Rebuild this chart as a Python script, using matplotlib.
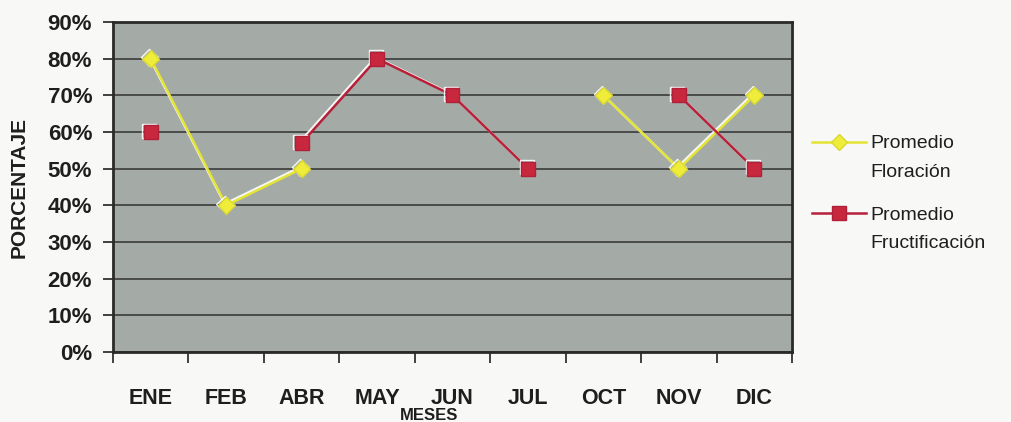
import numpy as np
import matplotlib
matplotlib.use("Agg")
import matplotlib.pyplot as plt
import matplotlib.patheffects as pe
from matplotlib.lines import Line2D
from matplotlib import font_manager as fm

months = ["ENE", "FEB", "ABR", "MAY", "JUN", "JUL", "OCT", "NOV", "DIC"]
floracion = [80, 40, 50, np.nan, np.nan, np.nan, 70, 50, 70]
fructificacion = [60, np.nan, 57, 80, 70, 50, np.nan, 70, 50]
yticks = [0, 10, 20, 30, 40, 50, 60, 70, 80, 90]
ytick_labels = [f"{v}%" for v in yticks]
series_labels = [["Promedio", "Floración"], ["Promedio", "Fructificación"]]

names = {f.name for f in fm.fontManager.ttflist}
base = "Liberation Sans" if "Liberation Sans" in names else "DejaVu Sans"
plt.rcParams["font.family"] = [base, "DejaVu Sans"]

W, H = 1011, 422
fig = plt.figure(figsize=(W / 100, H / 100), dpi=100, facecolor="#f8f8f6")
ax = fig.add_axes([113 / W, 1 - 352 / H, 679 / W, 330 / H])
ax.set_facecolor("#a4aba6")

x = np.arange(len(months))
shadow = [pe.SimpleLineShadow(offset=(-1, 1), shadow_color="white", alpha=0.9), pe.Normal()]
styles = [
    dict(color="#e4e434", lw=1.8, marker="D", ms=8.5, mfc="#efed3a", mec="#d8d830"),
    dict(color="#b8203a", lw=1.8, marker="s", ms=10, mfc="#c8283e", mec="#b02038"),
]
ax.plot(x, floracion, path_effects=shadow, zorder=3, **styles[0])
ax.plot(x, fructificacion, path_effects=shadow, zorder=4, **styles[1])

ax.set_xlim(-0.5, len(months) - 0.5)
ax.set_ylim(0, 90)
ax.set_yticks(yticks)
ax.set_yticklabels(ytick_labels, fontsize=16, fontweight="bold", color="#1e1e1e")
ax.set_xticks(x)
ax.set_xticklabels(months, fontsize=15.5, fontweight="bold", color="#1e1e1e")
ax.set_xticks(np.arange(-0.5, len(months)), minor=True)
ax.tick_params(axis="x", which="major", length=0, pad=26)
ax.tick_params(axis="x", which="minor", length=8, width=1.2, color="#222", direction="out")
ax.tick_params(axis="y", length=7, width=1.2, color="#222", direction="out", pad=8)
ax.grid(axis="y", color="#3a3a3a", lw=1.2)
ax.set_axisbelow(True)
for s in ax.spines.values():
    s.set_color("#2a2a2a")
    s.set_linewidth(2)

ax.set_ylabel("PORCENTAJE", fontsize=15, fontweight="bold", color="#1e1e1e")
ax.yaxis.set_label_coords((29 - 113) / 679, 0.5)
fig.text(429 / W, 1 - 416 / H, "MESES", fontsize=12, fontweight="bold",
         color="#1e1e1e", ha="center", va="center")

# legend (handle aligned with first text line, as in the reference)
handle_y = [142, 213]
baselines = [[148, 177], [220, 248]]
for st, hy, lab, bls in zip(styles, handle_y, series_labels, baselines):
    fy = 1 - hy / H
    fig.add_artist(Line2D([812 / W, 866 / W], [fy, fy], transform=fig.transFigure,
                          color=st["color"], lw=st["lw"]))
    fig.add_artist(Line2D([839 / W], [fy], transform=fig.transFigure, marker=st["marker"],
                          ms=st["ms"], mfc=st["mfc"], mec=st["mec"], ls="none"))
    for line, bl in zip(lab, bls):
        fig.text(870 / W, 1 - bl / H, line, fontsize=14, color="#1e1e1e",
                 ha="left", va="baseline")

fig.savefig("out.png", dpi=100, facecolor=fig.get_facecolor())
